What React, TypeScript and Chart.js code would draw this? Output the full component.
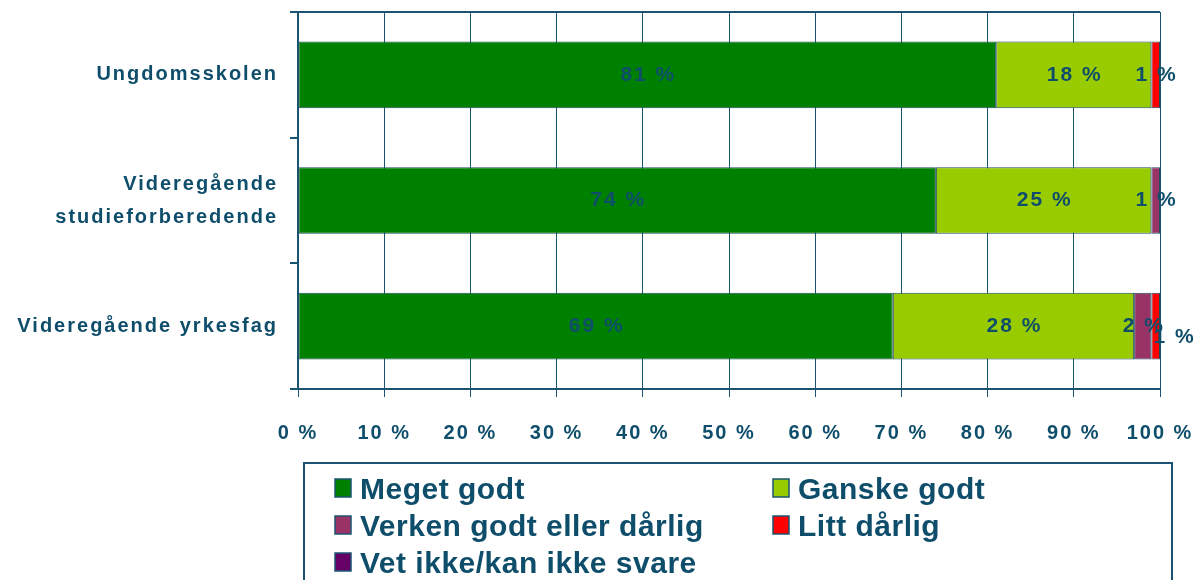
import React, { useEffect, useRef } from "react";
import { Chart, registerables } from "chart.js";

Chart.register(...registerables);

const categories: (string | string[])[] = [
  "Ungdomsskolen",
  ["Videregående", "studieforberedende"],
  "Videregående yrkesfag",
];
const seriesNames = [
  "Meget godt",
  "Ganske godt",
  "Verken godt eller dårlig",
  "Litt dårlig",
  "Vet ikke/kan ikke svare",
];
const megetGodt = [81, 74, 69];
const ganskeGodt = [18, 25, 28];
const verkenGodtEllerDarlig = [0, 1, 2];
const littDarlig = [1, 0, 1];
const vetIkke = [0, 0, 0];
const xTickValues = [0, 10, 20, 30, 40, 50, 60, 70, 80, 90, 100];

const seriesValues = [megetGodt, ganskeGodt, verkenGodtEllerDarlig, littDarlig, vetIkke];
const seriesColors = ["#008000", "#99CC00", "#993366", "#FF0000", "#660066"];

const TEXT = "#0f4e6b";
const LINE = "#1b5470";
const FONT = "'Liberation Sans', Arial, sans-serif";

// label nudges (dataset index - category index) -> [dx, dy]
const labelNudge: Record<string, [number, number]> = { "3-2": [18, 11] };

const spacingPlugin = {
  id: "spacing",
  beforeLayout(chart: any) {
    chart.ctx.letterSpacing = "2px";
  },
  beforeDraw(chart: any) {
    chart.ctx.letterSpacing = "2px";
  },
};

const valueLabelPlugin = {
  id: "valueLabels",
  afterDatasetsDraw(chart: any) {
    const ctx = chart.ctx;
    ctx.save();
    ctx.letterSpacing = "2px";
    ctx.font = `bold 21px ${FONT}`;
    ctx.fillStyle = TEXT;
    ctx.textAlign = "center";
    ctx.textBaseline = "middle";
    chart.data.datasets.forEach((ds: any, di: number) => {
      const meta = chart.getDatasetMeta(di);
      meta.data.forEach((el: any, i: number) => {
        const v = ds.data[i];
        if (v == null || v === 0) return;
        const { x, base, y } = el.getProps(["x", "base", "y"], true);
        const n = labelNudge[`${di}-${i}`] || [0, 0];
        ctx.fillText(`${v} %`, (x + base) / 2 + n[0] + 1, y + n[1]);
      });
    });
    ctx.restore();
  },
};

const legendPlugin = {
  id: "customLegend",
  afterDraw(chart: any) {
    const ctx = chart.ctx;
    ctx.save();
    ctx.letterSpacing = "0.5px";
    ctx.strokeStyle = LINE;
    ctx.lineWidth = 2;
    ctx.strokeRect(304, 463, 868, 130);
    ctx.font = `bold 30px ${FONT}`;
    ctx.textAlign = "left";
    ctx.textBaseline = "alphabetic";
    const cols = [335, 773];
    const baselines = [499, 536, 573];
    chart.data.datasets.forEach((ds: any, i: number) => {
      const cx = cols[i % 2];
      const by = baselines[Math.floor(i / 2)];
      ctx.fillStyle = ds.backgroundColor;
      ctx.fillRect(cx, by - 20, 16, 18);
      ctx.lineWidth = 1.5;
      ctx.strokeStyle = LINE;
      ctx.strokeRect(cx, by - 20, 16, 18);
      ctx.fillStyle = TEXT;
      ctx.fillText(ds.label, cx + 25, by);
    });
    ctx.restore();
  },
};

export default function App() {
  const canvasRef = useRef<HTMLCanvasElement | null>(null);

  useEffect(() => {
    document.body.style.margin = "0";
    const canvas = canvasRef.current;
    if (!canvas) return;
    const chart = new Chart(canvas, {
      type: "bar",
      data: {
        labels: categories as any,
        datasets: seriesNames.map((name, i) => ({
          label: name,
          data: seriesValues[i].map((v) => (v === 0 ? null : v)),
          backgroundColor: seriesColors[i],
          borderColor: "#1d4d5e",
          borderWidth: 1,
          borderSkipped: false,
          barPercentage: 0.53,
          categoryPercentage: 1,
        })),
      },
      options: {
        indexAxis: "y",
        animation: false,
        responsive: true,
        maintainAspectRatio: false,
        layout: { padding: { left: 0, right: 38, top: 12, bottom: 131 } },
        plugins: {
          legend: { display: false },
          tooltip: { enabled: false },
        },
        scales: {
          x: {
            stacked: true,
            min: 0,
            max: 100,
            afterBuildTicks(scale: any) {
              scale.ticks = xTickValues.map((v) => ({ value: v }));
            },
            afterFit(scale: any) {
              scale.height = 60;
              scale.paddingLeft = 0;
              scale.paddingRight = 0;
            },
            ticks: {
              color: TEXT,
              font: { family: FONT, size: 20, weight: "bold" },
              padding: 24,
              maxRotation: 0,
              autoSkip: false,
              callback: (v: any) => `${v} %`,
            },
            grid: {
              color: LINE,
              lineWidth: 1,
              tickColor: LINE,
              tickLength: 8,
              drawOnChartArea: true,
            },
            border: { color: LINE, width: 2 },
          },
          y: {
            stacked: true,
            afterFit(scale: any) {
              scale.width = 298;
              scale.paddingTop = 0;
              scale.paddingBottom = 0;
            },
            ticks: {
              color: TEXT,
              font: { family: FONT, size: 20, weight: "bold", lineHeight: 1.65 },
              padding: 12,
              autoSkip: false,
            },
            grid: {
              offset: true,
              color: (c: any) => (c.index === 0 ? LINE : "rgba(0,0,0,0)"),
              lineWidth: 2,
              tickColor: LINE,
              tickLength: 8,
              drawOnChartArea: true,
            },
            border: { color: LINE, width: 2 },
          },
        },
      },
      plugins: [spacingPlugin, valueLabelPlugin, legendPlugin],
    } as any);
    return () => chart.destroy();
  }, []);

  return (
    <div style={{ position: "relative", width: 1198, height: 580 }}>
      <canvas ref={canvasRef} />
    </div>
  );
}
